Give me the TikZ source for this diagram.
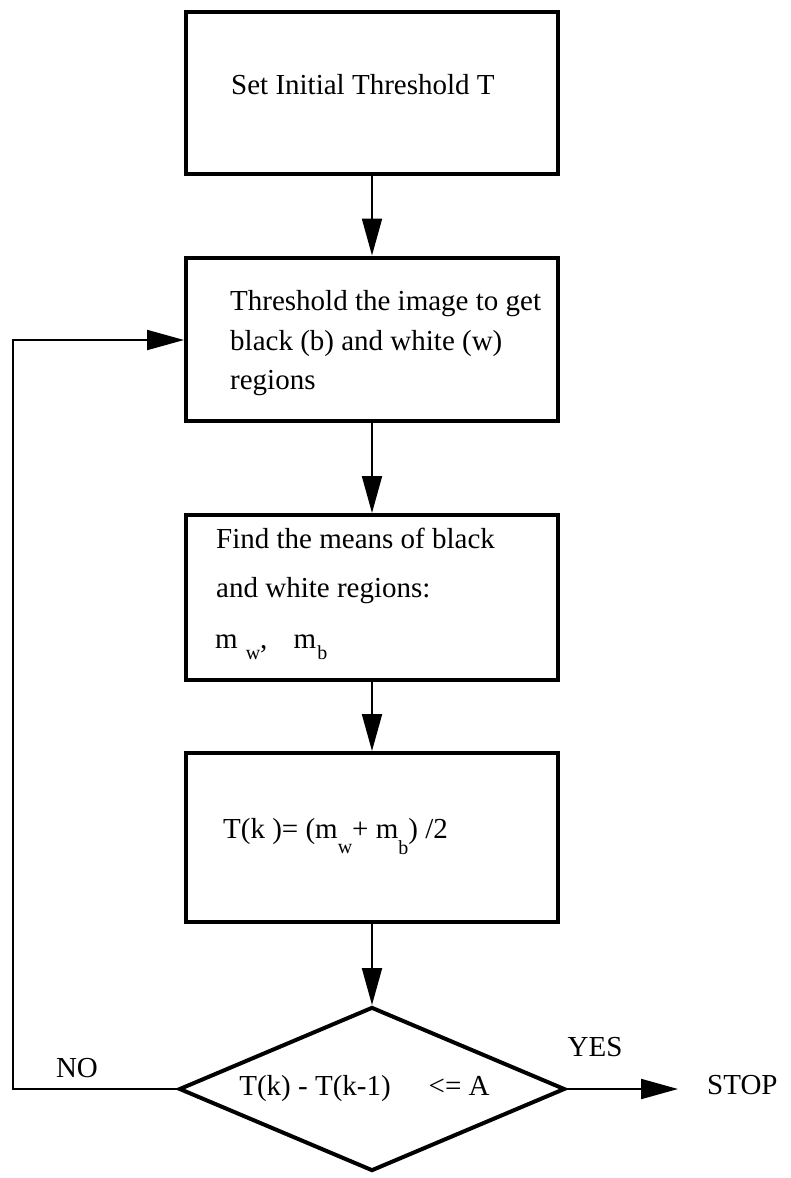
\documentclass[tikz,border=0pt]{standalone}
\usepackage{fontspec}
\setmainfont{Liberation Serif}
\usetikzlibrary{arrows.meta,shapes.geometric}
\newcommand{\sbx}[2]{\raisebox{-#1}{\fontsize{20}{20}\selectfont #2}}
\begin{document}
\begin{tikzpicture}[x=1pt,y=-1pt,
  box/.style={draw=black,line width=4pt,minimum width=372pt,inner sep=0pt},
  dec/.style={draw=black,diamond,line width=4pt,minimum width=386pt,minimum height=164pt,aspect=2.35,inner sep=0pt,font=\fontsize{29}{35}\selectfont},
  txt/.style={inner sep=0pt,anchor=base west,font=\fontsize{29}{35}\selectfont},
  lbl/.style={inner sep=0pt,font=\fontsize{29}{35}\selectfont},
  conn/.style={line width=2pt,-{Triangle[length=37pt,width=20pt]}}]
\useasboundingbox (0,0) rectangle (791,1178);
\fill[white] (0,0) rectangle (791,1178);
% boxes
\node[box,minimum height=162pt] (b1) at (372,93) {};
\node[box,minimum height=163pt] (b2) at (372,339) {};
\node[box,minimum height=165pt] (b3) at (372,597.5) {};
\node[box,minimum height=169pt] (b4) at (372,837.5) {};
\node[dec] (d) at (372,1089) {T(k) - T(k-1)\hspace{38pt}<= A\hspace*{15pt}};
% texts
\node[txt] (t1) at (231,94) {Set Initial Threshold T};
\node[txt] (t2a) at (230,310) {Threshold the image to get};
\node[txt] (t2b) at (230,350) {black (b) and white (w)};
\node[txt] (t2c) at (230,389) {regions};
\node[txt] (t3a) at (216,548) {Find the means of black};
\node[txt] (t3b) at (216,597) {and white regions:};
\node[txt] (t3c) at (215,648) {m\hspace{8pt}\sbx{11pt}{w}, \hspace{19pt}m\hspace{1pt}\sbx{11pt}{b}};
\node[txt] (t4) at (223,838) {T(k )= (m\sbx{15pt}{w}+ m\sbx{16pt}{b}) /2};
% labels
\node[lbl] (no) at (77,1068) {NO};
\node[lbl] (yes) at (595,1047) {YES};
\node[lbl,anchor=west,inner xsep=29pt] (stop) at (678,1085) {STOP};
% connectors
\draw[conn] (b1) -- (b2);
\draw[conn] (b2) -- (b3);
\draw[conn] (b3) -- (b4);
\draw[conn] (b4) -- (d);
\coordinate (nl) at (13,1089);
\coordinate (nu) at (13,340);
\draw[conn] (d.west) -- (nl) -- (nu) -- (nu -| b2.west);
\draw[conn] (d.east) -- (d.east -| stop.west);
\end{tikzpicture}
\end{document}
